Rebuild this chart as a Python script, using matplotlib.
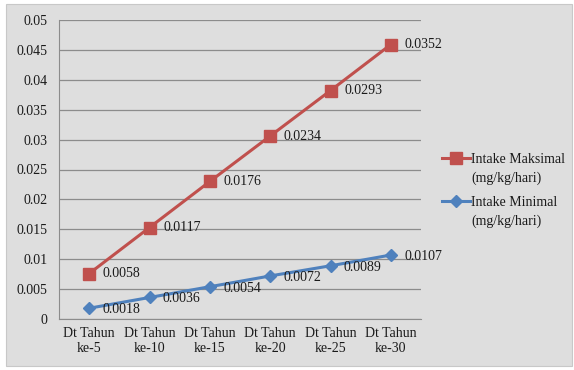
import matplotlib
matplotlib.use("Agg")
import matplotlib.pyplot as plt
from matplotlib.patches import Rectangle
from matplotlib.lines import Line2D

categories = ["Dt Tahun\nke-5", "Dt Tahun\nke-10", "Dt Tahun\nke-15",
              "Dt Tahun\nke-20", "Dt Tahun\nke-25", "Dt Tahun\nke-30"]
intake_min = [0.0018, 0.0036, 0.0054, 0.0072, 0.0089, 0.0107]
intake_max = [0.0058, 0.0117, 0.0176, 0.0234, 0.0293, 0.0352]
yticks = [0, 0.005, 0.01, 0.015, 0.02, 0.025, 0.03, 0.035, 0.04, 0.045, 0.05]
ytick_labels = ["0", "0.005", "0.01", "0.015", "0.02", "0.025", "0.03",
                "0.035", "0.04", "0.045", "0.05"]

# stacked line chart: the max series sits on top of the min series
stacked_max = [a + b for a, b in zip(intake_min, intake_max)]

plt.rcParams['font.family'] = 'serif'
plt.rcParams['font.serif'] = ['Liberation Serif', 'DejaVu Serif']
txt = '#1A1A1A'
fs = 10

fig = plt.figure(figsize=(5.74, 3.70), dpi=100)
fig.patch.set_facecolor('white')
bg = Rectangle((6 / 574, 1 - 366 / 370), 566 / 574, 362 / 370,
               transform=fig.transFigure, facecolor='#DEDEDE',
               edgecolor='#C8C8C8', linewidth=0.8, zorder=-10)
fig.add_artist(bg)

ax = fig.add_axes([59 / 574, 1 - 319 / 370, 362 / 574, 299 / 370])
ax.set_facecolor('#DEDEDE')
x = list(range(len(categories)))

red = '#C0504D'
blue = '#4F81BD'
ax.plot(x, stacked_max, color=red, linewidth=2.2, marker='s', markersize=8,
        zorder=3)
ax.plot(x, intake_min, color=blue, linewidth=2.2, marker='D', markersize=6,
        zorder=3)

for xi, yv, lab in zip(x, stacked_max, intake_max):
    ax.annotate(f"{lab:.4f}", (xi, yv), xytext=(9.8, 0), textcoords='offset points',
                ha='left', va='center', fontsize=fs, color=txt, zorder=4)
for xi, yv, lab in zip(x, intake_min, intake_min):
    ax.annotate(f"{lab:.4f}", (xi, yv), xytext=(9.5, -1), textcoords='offset points',
                ha='left', va='center', fontsize=fs, color=txt, zorder=4)

ax.set_xlim(-0.5, len(categories) - 0.5)
ax.set_ylim(0, 0.05)
ax.set_yticks(yticks)
ax.set_yticklabels(ytick_labels, fontsize=fs)
ax.set_xticks(x)
ax.set_xticklabels(categories, fontsize=fs, linespacing=1.2)
ax.tick_params(axis='y', length=0, pad=8.5, colors=txt)
ax.tick_params(axis='x', length=0, pad=6, colors=txt)
ax.grid(axis='y', color='#8C8C8C', linewidth=0.9)
ax.set_axisbelow(True)
for side in ['top', 'right']:
    ax.spines[side].set_visible(False)
ax.spines['left'].set_color('#8C8C8C')
ax.spines['bottom'].set_color('#8C8C8C')

# legend: marker beside the first line of each two-line label
blank = Line2D([], [], color='none')
entries = [
    (Line2D([], [], color=red, linewidth=2.2, marker='s', markersize=8),
     "Intake Maksimal", 153),
    (Line2D([], [], color=blue, linewidth=2.2, marker='D', markersize=6),
     "Intake Minimal", 196),
]
for handle, name, top in entries:
    leg = fig.legend([handle, blank], [name, "(mg/kg/hari)"], loc='upper left',
                     bbox_to_anchor=(442 / 574, 1 - top / 370), frameon=False,
                     fontsize=fs, handlelength=2.0, handletextpad=0.1,
                     labelspacing=0.42, borderpad=0, borderaxespad=0)
    for t in leg.get_texts():
        t.set_color(txt)

fig.savefig('out.png', dpi=100, facecolor=fig.get_facecolor())
